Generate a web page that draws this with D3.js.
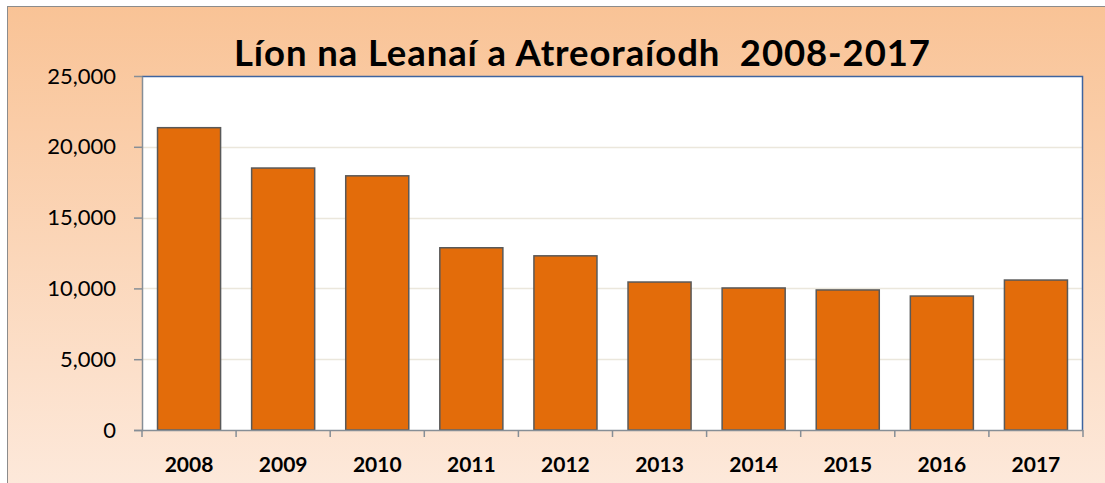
<!DOCTYPE html>
<html>
<head>
<meta charset="utf-8">
<script src="https://cdn.jsdelivr.net/npm/d3@7"></script>
<style>
  body { margin: 0; background: #fff; }
  svg { display: block; }
</style>
</head>
<body>
<div id="chart"></div>
<script>
// data
const years = ["2008", "2009", "2010", "2011", "2012", "2013", "2014", "2015", "2016", "2017"];
const referrals = [21350, 18500, 17950, 12870, 12300, 10450, 10030, 9890, 9460, 10590];
const yTicks = [0, 5000, 10000, 15000, 20000, 25000];
const title = "Líon na Leanaí a Atreoraíodh  2008-2017";

const W = 1105, H = 483;
const margin = { top: 76, right: 22, bottom: 53, left: 142 };
const width = W - margin.left - margin.right;
const height = H - margin.top - margin.bottom;

const svg = d3.select('#chart')
  .append('svg')
  .attr('width', W)
  .attr('height', H);

// background gradient (peach at top, lighter at bottom)
let defs = svg.append('defs');
let grad = defs.append('linearGradient')
  .attr('id', 'bg')
  .attr('x1', 0).attr('y1', 0)
  .attr('x2', 0).attr('y2', 1);
grad.append('stop').attr('offset', '0%').attr('stop-color', '#f9c396');
grad.append('stop').attr('offset', '100%').attr('stop-color', '#fde9db');

svg.append('rect')
  .attr('x', 7.5).attr('y', 6.5)
  .attr('width', W).attr('height', H)
  .attr('fill', 'url(#bg)')
  .attr('stroke', '#8c8c8c')
  .attr('stroke-width', 1);

svg.append('text')
  .attr('x', 234)
  .attr('y', 66)
  .attr('text-anchor', 'start')
  .attr('textLength', 696)
  .attr('lengthAdjust', 'spacing')
  .style('white-space', 'pre')
  .style('font-family', 'Lato, "Open Sans", sans-serif')
  .style('font-weight', 'bold')
  .style('font-size', '36.5px')
  .attr('fill', '#000')
  .text(title);

let g = svg.append('g')
  .attr('transform', "translate(" + margin.left + "," + margin.top + ")");

let x = d3.scaleBand()
  .domain(years)
  .range([0, width])
  .paddingInner(0.33)
  .paddingOuter(0.165);

let y = d3.scaleLinear()
  .domain([0, 25000])
  .range([height, 0]);

// plot area
g.append('rect')
  .attr('width', width)
  .attr('height', height)
  .attr('fill', '#fff');

// gridlines
g.selectAll('line.grid')
  .data(yTicks.filter(d => d > 0 && d < 25000))
  .enter().append('line')
  .attr('class', 'grid')
  .attr('x1', 0).attr('x2', width)
  .attr('y1', d => Math.round(y(d)) + 0.5)
  .attr('y2', d => Math.round(y(d)) + 0.5)
  .attr('stroke', '#ebe7dc')
  .attr('stroke-width', 1.5);

// top and right border
g.append('path')
  .attr('d', `M0,0.5 H${width - 0.5} V${height}`)
  .attr('fill', 'none')
  .attr('stroke', '#3d64a0')
  .attr('stroke-width', 1.5);

// bars
g.selectAll('rect.bar')
  .data(referrals)
  .enter().append('rect')
  .attr('class', 'bar')
  .attr('x', (d, i) => x(years[i]))
  .attr('y', d => y(d))
  .attr('width', x.bandwidth())
  .attr('height', d => height - y(d))
  .attr('fill', '#e36c0a')
  .attr('stroke', '#595959')
  .attr('stroke-width', 1.5);

// y axis
let yAxis = g.append('g')
  .call(d3.axisLeft(y).tickValues(yTicks).tickSize(8).tickPadding(18)
    .tickFormat(d3.format(',')));
yAxis.select('.domain').attr('stroke', '#868e96').attr('stroke-width', 1.5).attr('d', `M-8,${height + 0.5}H0.5V0.5`);
yAxis.selectAll('.tick line').attr('stroke', '#868e96').attr('stroke-width', 1.5);
yAxis.selectAll('text')
  .style('font-family', 'Lato, "Open Sans", sans-serif')
  .style('font-size', '22px')
  .attr('fill', '#000');

// x axis, ticks sit at band boundaries
let boundaries = d3.range(years.length + 1).map(i => i * width / years.length);
let xAxisG = g.append('g')
  .attr('transform', "translate(0," + height + ")");
xAxisG.append('line')
  .attr('x1', 0).attr('x2', width)
  .attr('y1', 0.5).attr('y2', 0.5)
  .attr('stroke', '#868e96')
  .attr('stroke-width', 1.5);
xAxisG.selectAll('line.xtick')
  .data(boundaries)
  .enter().append('line')
  .attr('class', 'xtick')
  .attr('x1', d => d).attr('x2', d => d)
  .attr('y1', 0).attr('y2', 7)
  .attr('stroke', '#868e96')
  .attr('stroke-width', 1.5);
xAxisG.selectAll('text')
  .data(years)
  .enter().append('text')
  .attr('x', d => x(d) + x.bandwidth() / 2)
  .attr('y', 42)
  .attr('text-anchor', 'middle')
  .style('font-family', 'Lato, "Open Sans", sans-serif')
  .style('font-weight', 'bold')
  .style('font-size', '21px')
  .attr('fill', '#000')
  .text(d => d);
</script>
</body>
</html>
